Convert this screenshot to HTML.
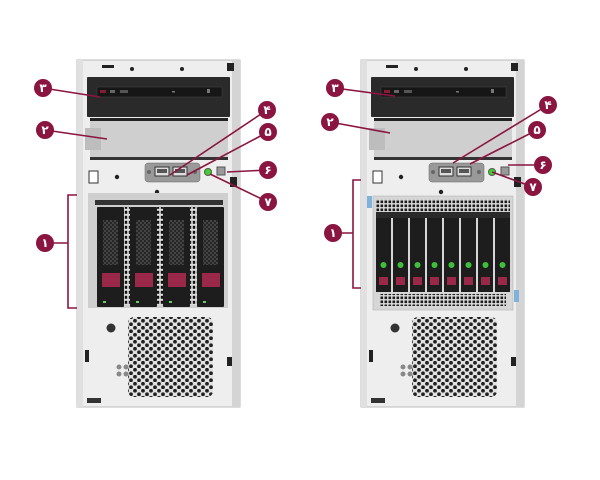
<!DOCTYPE html>
<html><head><meta charset="utf-8"><style>
html,body{margin:0;padding:0;background:#fff;}
svg{display:block;}
text{font-family:"DejaVu Sans","Liberation Sans",sans-serif;font-weight:bold;}
</style></head><body>
<svg width="600" height="480" viewBox="0 0 600 480" xmlns="http://www.w3.org/2000/svg">
<defs>
<pattern id="hex" width="8" height="7" patternUnits="userSpaceOnUse">
<rect width="8" height="7" fill="#e2e2e2"/>
<circle cx="2" cy="1.75" r="1.9" fill="#222"/>
<circle cx="6" cy="5.25" r="1.9" fill="#222"/>
</pattern>
<pattern id="hexs" width="4" height="4" patternUnits="userSpaceOnUse">
<rect width="4" height="4" fill="#444"/>
<circle cx="1" cy="1" r="0.9" fill="#111"/>
<circle cx="3" cy="3" r="0.9" fill="#111"/>
</pattern>
<pattern id="vent" width="4" height="4" patternUnits="userSpaceOnUse">
<rect width="4" height="4" fill="#ddd"/>
<rect x="0.5" y="0.5" width="2.6" height="2.6" fill="#1a1a1a"/>
</pattern>
<pattern id="vstrip" width="4" height="5" patternUnits="userSpaceOnUse">
<rect width="4" height="5" fill="#ddd"/>
<rect x="0.8" y="0.8" width="2.4" height="3" fill="#111"/>
</pattern>
<g id="chassis">
<rect x="0" y="0" width="163" height="347" fill="#eeeeee" stroke="#bbb" stroke-width="1"/>
<rect x="155" y="0" width="8" height="347" fill="#d4d4d4"/>
<rect x="0" y="0" width="6" height="347" fill="#e0e0e0"/>
<rect x="25" y="5" width="12" height="3" fill="#222"/>
<circle cx="55" cy="9" r="2" fill="#222"/>
<circle cx="105" cy="9" r="2" fill="#222"/>
<rect x="150" y="3" width="7" height="8" fill="#222"/>
<rect x="10" y="17" width="143" height="40" fill="#2a2a2a" rx="1"/>
<rect x="20" y="27" width="125" height="10" fill="#161616" stroke="#444" stroke-width="0.5"/>
<rect x="23" y="30" width="6" height="3" fill="#8a1a3a"/>
<rect x="33" y="30" width="5" height="3" fill="#666"/>
<rect x="43" y="30" width="8" height="3" fill="#555"/>
<rect x="95" y="31" width="3" height="1.5" fill="#777"/>
<rect x="130" y="29" width="3" height="4" fill="#777"/>
<rect x="13" y="58" width="138" height="42" fill="#cfcfcf"/>
<rect x="13" y="58" width="138" height="3" fill="#222"/>
<rect x="13" y="97" width="138" height="3" fill="#333"/>
<rect x="8" y="68" width="16" height="22" fill="#bdbdbd"/>
<rect x="68" y="103" width="55" height="19" fill="#999" rx="3" stroke="#666" stroke-width="0.5"/>
<rect x="78" y="107" width="14" height="9" fill="#ddd" stroke="#333"/>
<rect x="96" y="107" width="14" height="9" fill="#ddd" stroke="#333"/>
<rect x="80" y="109" width="10" height="4" fill="#555"/>
<rect x="98" y="109" width="10" height="4" fill="#555"/>
<circle cx="72" cy="112" r="2" fill="#666"/>
<circle cx="118" cy="112" r="2" fill="#666"/>
<circle cx="131" cy="112" r="3.5" fill="#3fcf2f" stroke="#555"/>
<rect x="140" y="107" width="8" height="8" fill="#999" stroke="#555"/>
<rect x="153" y="117" width="7" height="10" fill="#222"/>
<rect x="12" y="111" width="9" height="12" fill="#fff" stroke="#333"/>
<circle cx="40" cy="117" r="2.2" fill="#222"/>
<circle cx="80" cy="132" r="2.2" fill="#222"/>
<rect x="51" y="257" width="85" height="80" rx="6" fill="url(#hex)"/>
<circle cx="34" cy="268" r="4.5" fill="#333"/>
<rect x="8" y="290" width="4" height="12" fill="#222"/>
<rect x="150" y="297" width="5" height="9" fill="#222"/>
<circle cx="42" cy="307" r="2.5" fill="#888"/><circle cx="49" cy="307" r="2.5" fill="#888"/>
<circle cx="42" cy="314" r="2.5" fill="#888"/><circle cx="49" cy="314" r="2.5" fill="#888"/>
<rect x="10" y="338" width="14" height="5" fill="#333"/>
</g>
</defs>

<use href="#chassis" x="77" y="60"/>
<rect x="88" y="193" width="140" height="115" fill="#cfcfcf"/>
<rect x="95" y="200" width="128" height="5" fill="#333"/>
<g fill="#1d1d1d">
<rect x="97" y="207" width="27" height="100" rx="1"/>
<rect x="130" y="207" width="27" height="100" rx="1"/>
<rect x="163" y="207" width="27" height="100" rx="1"/>
<rect x="197" y="207" width="27" height="100" rx="1"/>
</g>
<g fill="url(#hexs)">
<rect x="103" y="220" width="15" height="45"/><rect x="136" y="220" width="15" height="45"/>
<rect x="169" y="220" width="15" height="45"/><rect x="203" y="220" width="15" height="45"/>
</g>
<g fill="#9a2848">
<rect x="102" y="273" width="18" height="14"/><rect x="135" y="273" width="18" height="14"/>
<rect x="168" y="273" width="18" height="14"/><rect x="202" y="273" width="18" height="14"/>
</g>
<g fill="#6c6">
<rect x="103" y="301" width="3" height="2"/><rect x="136" y="301" width="3" height="2"/>
<rect x="169" y="301" width="3" height="2"/><rect x="203" y="301" width="3" height="2"/>
</g>
<g fill="url(#vstrip)">
<rect x="124" y="207" width="6" height="98"/><rect x="157" y="207" width="6" height="98"/><rect x="190" y="207" width="7" height="98"/>
</g>

<use href="#chassis" x="361" y="60"/>
<rect x="373" y="196" width="140" height="114" fill="#d6d6d6" stroke="#aaa" stroke-width="0.5"/>
<rect x="376" y="199" width="134" height="13" fill="url(#vent)"/>
<rect x="376" y="212" width="134" height="6" fill="#2a2a2a"/>
<g fill="#1d1d1d">
<rect x="376" y="218" width="15" height="74"/><rect x="393" y="218" width="15" height="74"/>
<rect x="410" y="218" width="15" height="74"/><rect x="427" y="218" width="15" height="74"/>
<rect x="444" y="218" width="15" height="74"/><rect x="461" y="218" width="15" height="74"/>
<rect x="478" y="218" width="15" height="74"/><rect x="495" y="218" width="15" height="74"/>
</g>
<g fill="#3fc03a">
<circle cx="383.5" cy="265" r="3"/><circle cx="400.5" cy="265" r="3"/><circle cx="417.5" cy="265" r="3"/><circle cx="434.5" cy="265" r="3"/>
<circle cx="451.5" cy="265" r="3"/><circle cx="468.5" cy="265" r="3"/><circle cx="485.5" cy="265" r="3"/><circle cx="502.5" cy="265" r="3"/>
</g>
<g fill="#9a2848">
<rect x="379" y="277" width="9" height="8"/><rect x="396" y="277" width="9" height="8"/><rect x="413" y="277" width="9" height="8"/><rect x="430" y="277" width="9" height="8"/>
<rect x="447" y="277" width="9" height="8"/><rect x="464" y="277" width="9" height="8"/><rect x="481" y="277" width="9" height="8"/><rect x="498" y="277" width="9" height="8"/>
</g>
<rect x="380" y="294" width="126" height="12" fill="url(#vent)"/>
<rect x="367" y="196" width="5" height="12" fill="#7fb3d9"/>
<rect x="514" y="290" width="5" height="12" fill="#7fb3d9"/>

<g stroke="#8a1540" stroke-width="1.6" fill="none">
<line x1="43" y1="88" x2="100" y2="97"/>
<line x1="45" y1="130" x2="107" y2="139"/>
<line x1="267" y1="110" x2="170" y2="175"/>
<line x1="268" y1="132" x2="187" y2="175"/>
<line x1="268" y1="170" x2="227" y2="172"/>
<line x1="268" y1="202" x2="210" y2="174"/>
<line x1="45" y1="243" x2="68" y2="243"/>
<polyline points="77,195 68,195 68,308 77,308"/>
<line x1="335" y1="88" x2="395" y2="96"/>
<line x1="330" y1="122" x2="390" y2="133"/>
<line x1="548" y1="105" x2="453" y2="163"/>
<line x1="537" y1="130" x2="470" y2="164"/>
<line x1="543" y1="165" x2="508" y2="165"/>
<line x1="533" y1="187" x2="492" y2="172"/>
<line x1="333" y1="233" x2="353" y2="233"/>
<polyline points="361,180 353,180 353,288 361,288"/>
</g>
<g fill="#8a1540">
<circle cx="43" cy="88" r="9"/><circle cx="45" cy="130" r="9"/><circle cx="267" cy="110" r="9"/>
<circle cx="268" cy="132" r="9"/><circle cx="268" cy="170" r="9"/><circle cx="268" cy="202" r="9"/><circle cx="45" cy="243" r="9"/>
<circle cx="335" cy="88" r="9"/><circle cx="330" cy="122" r="9"/><circle cx="548" cy="105" r="9"/>
<circle cx="537" cy="130" r="9"/><circle cx="543" cy="165" r="9"/><circle cx="533" cy="187" r="9"/><circle cx="333" cy="233" r="9"/>
</g>
<g fill="#fff" font-size="12" text-anchor="middle">
<text x="43" y="92">۳</text><text x="45" y="134">۲</text><text x="267" y="114">۴</text>
<text x="268" y="136">۵</text><text x="268" y="174">۶</text><text x="268" y="206">۷</text><text x="45" y="247">۱</text>
<text x="335" y="92">۳</text><text x="330" y="126">۲</text><text x="548" y="109">۴</text>
<text x="537" y="134">۵</text><text x="543" y="169">۶</text><text x="533" y="191">۷</text><text x="333" y="237">۱</text>
</g>
</svg>
</body></html>
